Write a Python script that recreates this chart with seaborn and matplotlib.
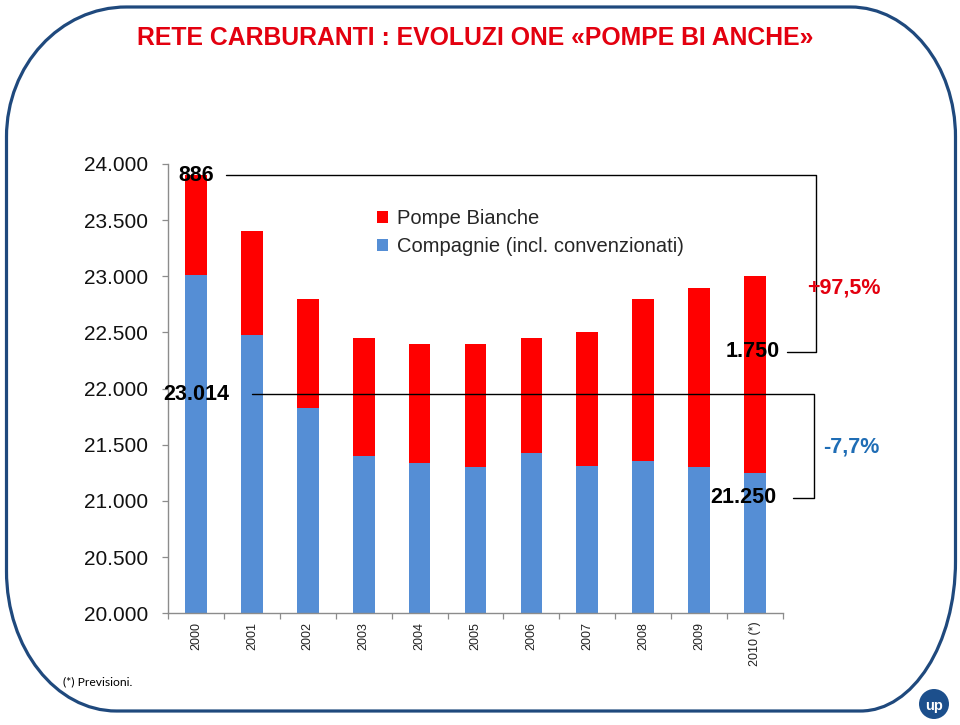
import numpy as np
import pandas as pd
import matplotlib
matplotlib.use("Agg")
import matplotlib.pyplot as plt
import seaborn as sns
from matplotlib.patches import Patch, PathPatch, Circle
from matplotlib.path import Path
from matplotlib.lines import Line2D
import matplotlib.transforms as mtransforms
from matplotlib.ticker import FuncFormatter, FixedLocator

# ---------------- data ----------------
years = ["2000", "2001", "2002", "2003", "2004", "2005", "2006", "2007",
         "2008", "2009", "2010 (*)"]
compagnie = [23014, 22480, 21830, 21400, 21340, 21300, 21430, 21310,
             21360, 21300, 21250]
pompe_bianche = [886, 920, 970, 1050, 1060, 1100, 1020, 1190,
                 1440, 1600, 1750]
series_names = ["Pompe Bianche", "Compagnie (incl. convenzionati)"]
y_ticks = [20000, 20500, 21000, 21500, 22000, 22500, 23000, 23500, 24000]
title = "RETE CARBURANTI : EVOLUZI ONE «POMPE BI ANCHE»"
footnote = "(*) Previsioni."
pct_pompe = "+97,5%"
pct_comp = "-7,7%"

RED = "#FF0000"
BLUE = "#558ED5"
BORDER = "#1F497D"


def fmt(v):
    return f"{int(round(v)):,}".replace(",", ".")


sns.set_style("white")
plt.rcParams["font.family"] = ["Liberation Sans", "DejaVu Sans"]

W, H = 960, 725
fig = plt.figure(figsize=(W / 100, H / 100), dpi=100)
px = mtransforms.Affine2D().scale(1 / W, 1 / H) + fig.transFigure

# ---------------- border (rounded frame) ----------------
def rrect(x0, y0, x1, y1, r_bl, r_br, r_tr, r_tl):
    k = 0.5523
    v, c = [], []
    (bx, by), (cx, cy), (tx, ty), (lx, ly) = r_bl, r_br, r_tr, r_tl
    v += [(x0 + bx, y0)]; c += [Path.MOVETO]
    v += [(x1 - cx, y0)]; c += [Path.LINETO]
    v += [(x1 - cx + k * cx, y0), (x1, y0 + cy - k * cy), (x1, y0 + cy)]; c += [Path.CURVE4] * 3
    v += [(x1, y1 - ty)]; c += [Path.LINETO]
    v += [(x1, y1 - ty + k * ty), (x1 - tx + k * tx, y1), (x1 - tx, y1)]; c += [Path.CURVE4] * 3
    v += [(x0 + lx, y1)]; c += [Path.LINETO]
    v += [(x0 + lx - k * lx, y1), (x0, y1 - ly + k * ly), (x0, y1 - ly)]; c += [Path.CURVE4] * 3
    v += [(x0, y0 + by)]; c += [Path.LINETO]
    v += [(x0, y0 + by - k * by), (x0 + bx - k * bx, y0), (x0 + bx, y0)]; c += [Path.CURVE4] * 3
    v += [(x0 + bx, y0)]; c += [Path.CLOSEPOLY]
    return Path(v, c)

frame = rrect(6.5, H - 711, 955.5, H - 7,
              (110, 140), (95, 150), (105, 130), (120, 130))
fig.add_artist(PathPatch(frame, transform=px, facecolor="none",
                         edgecolor=BORDER, lw=2.3, zorder=0))

# ---------------- axes ----------------
ax = fig.add_axes([168 / W, (H - 613.3) / H, 615 / W, 449.3 / H])
df = pd.DataFrame({"year": years, "compagnie": compagnie, "pompe": pompe_bianche})
df["total"] = df["compagnie"] + df["pompe"]

sns.barplot(data=df, x="year", y="total", color=RED, width=0.39,
            saturation=1, linewidth=0, ax=ax)
sns.barplot(data=df, x="year", y="compagnie", color=BLUE, width=0.39,
            saturation=1, linewidth=0, ax=ax)

ax.set_ylim(y_ticks[0], y_ticks[-1])
ax.set_xlim(-0.5, len(years) - 0.5)
ax.set_xlabel("")
ax.set_ylabel("")
ax.yaxis.set_major_locator(FixedLocator(y_ticks))
ax.yaxis.set_major_formatter(FuncFormatter(lambda v, p: fmt(v)))
for s in ["top", "right"]:
    ax.spines[s].set_visible(False)
for s in ["left", "bottom"]:
    ax.spines[s].set_color("#8C8C8C")
    ax.spines[s].set_linewidth(1.0)
ax.tick_params(axis="y", which="major", length=4.3, width=0.9, color="#8C8C8C",
               direction="out", left=True, pad=10, labelsize=15, labelcolor="#111111")
ax.set_xticks(range(len(years)))
ax.set_xticklabels(years, rotation=90, fontsize=9, color="#222222")
ax.tick_params(axis="x", which="major", length=0, pad=6)
ax.set_xticks(np.arange(-0.5, len(years), 1.0), minor=True)
ax.tick_params(axis="x", which="minor", length=4.3, width=0.9, color="#8C8C8C",
               direction="out", bottom=True)

# ---------------- legend ----------------
handles = [Patch(facecolor=RED, edgecolor="none"),
           Patch(facecolor=BLUE, edgecolor="none")]
leg = ax.legend(handles, series_names, loc="upper left",
                bbox_to_anchor=(0.34, 0.90), frameon=False, fontsize=14.5,
                handlelength=0.55, handleheight=0.55, handletextpad=0.45,
                labelspacing=0.45, borderpad=0, borderaxespad=0)

# ---------------- annotations ----------------
tr = ax.get_yaxis_transform()   # x: axes fraction, y: data
lab_fs = 15.5
top_total = df["total"].iloc[0]
ax.text(0, top_total, fmt(pompe_bianche[0]), ha="center", va="center",
        fontsize=lab_fs, fontweight="bold", color="black", zorder=5)
ax.add_line(Line2D([0.0943, 1.054, 1.054, 1.007],
                   [top_total, top_total, 22330, 22330],
                   transform=tr, color="black", lw=1.0, clip_on=False))
ax.text(0.995, 22330, fmt(pompe_bianche[-1]), transform=tr, ha="right",
        va="center", fontsize=lab_fs, fontweight="bold", color="black", zorder=5)
ax.text(1.039, 22896, pct_pompe, transform=tr, ha="left", va="center",
        fontsize=lab_fs, fontweight="bold", color="#E3000F")

ax.text(0, 21950, fmt(compagnie[0]), ha="center", va="center",
        fontsize=lab_fs, fontweight="bold", color="black", zorder=5, clip_on=False)
ax.add_line(Line2D([0.1366, 1.050, 1.050, 1.016],
                   [21950, 21950, 21030, 21030],
                   transform=tr, color="black", lw=1.0, clip_on=False))
ax.text(0.990, 21030, fmt(compagnie[-1]), transform=tr, ha="right",
        va="center", fontsize=lab_fs, fontweight="bold", color="black", zorder=5)
ax.text(1.065, 21483, pct_comp, transform=tr, ha="left", va="center",
        fontsize=lab_fs, fontweight="bold", color="#1F6DB5")

# ---------------- title / footnote / logo ----------------
fig.text(475 / W, 1 - 38 / H, title, ha="center", va="center",
         color="#E3000F", fontsize=17.8, fontweight="bold",
         family=["Liberation Sans Narrow", "Liberation Sans", "DejaVu Sans"])
fig.text(63 / W, 1 - 682 / H, footnote, ha="left", va="center",
         fontsize=8.7, color="black", family=["Lato", "DejaVu Sans"])
fig.add_artist(Circle((934, H - 704), 15, transform=px,
                      facecolor="#1C4F8C", edgecolor="none"))
fig.text(934 / W, (H - 706) / H, "up", ha="center", va="center",
         color="white", fontsize=10.5, fontweight="bold")

fig.savefig("out.png", dpi=100)
